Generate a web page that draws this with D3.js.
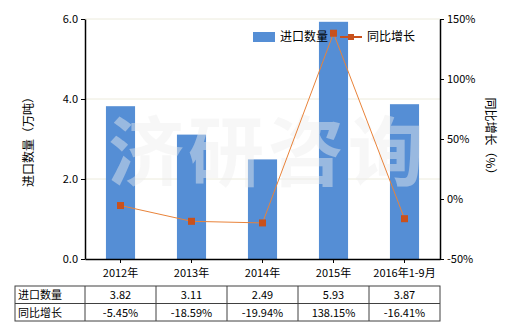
<!DOCTYPE html>
<html>
<head>
<meta charset="utf-8">
<script src="https://cdn.jsdelivr.net/npm/d3@7"></script>
<style>
  body { margin: 0; background: #fff; }
  text { font-family: "Noto Sans CJK SC", "Noto Sans", sans-serif; }
</style>
</head>
<body>
<script>
//chart data
var categories = ["2012年", "2013年", "2014年", "2015年", "2016年1-9月"];
var importQty = [3.82, 3.11, 2.49, 5.93, 3.87];   //万吨
var growthPct = [-5.45, -18.59, -19.94, 138.15, -16.41];
var qtyLabels = ["3.82", "3.11", "2.49", "5.93", "3.87"];
var growthLabels = ["-5.45%", "-18.59%", "-19.94%", "138.15%", "-16.41%"];
var leftTicks = [0, 2, 4, 6];
var rightTicks = [-50, 0, 50, 100, 150];

(function(){

//frame
var width = 520, height = 330,
    plotLeft = 85, plotRight = 440, plotTop = 19, plotBottom = 259;

var svg = d3.select("body").append("svg")
    .attr("width", width)
    .attr("height", height);

var x = d3.scaleBand()
    .domain(categories)
    .range([plotLeft, plotRight])
    .paddingInner(0.59)
    .paddingOuter(0.295);

var band = d3.scaleBand().domain(categories).range([plotLeft, plotRight]);

var yL = d3.scaleLinear().domain([0, 6]).range([plotBottom, plotTop]);
var yR = d3.scaleLinear().domain([-50, 150]).range([plotBottom, plotTop]);

//gridlines
svg.append("g").selectAll("line")
    .data(leftTicks.filter(function(d){ return d > 0; }))
    .enter().append("line")
    .attr("x1", plotLeft).attr("x2", plotRight)
    .attr("y1", function(d){ return yL(d); })
    .attr("y2", function(d){ return yL(d); })
    .attr("stroke", "#ecebdc")
    .attr("stroke-width", 1);

//bars
svg.append("g").selectAll("rect")
    .data(importQty)
    .enter().append("rect")
    .attr("x", function(d, i){ return x(categories[i]); })
    .attr("width", x.bandwidth())
    .attr("y", function(d){ return yL(d); })
    .attr("height", function(d){ return plotBottom - yL(d); })
    .attr("fill", "#558ed5");

//watermark
svg.append("text")
    .attr("x", 268).attr("y", 180)
    .attr("text-anchor", "middle")
    .attr("font-size", 76)
    .attr("font-weight", "bold")
    .attr("fill", "#eeeeee")
    .attr("fill-opacity", 0.45)
    .attr("letter-spacing", 4)
    .text("济研咨询");

//line + markers
var line = d3.line()
    .x(function(d, i){ return band(categories[i]) + band.bandwidth() / 2; })
    .y(function(d){ return yR(d); });

svg.append("path")
    .datum(growthPct)
    .attr("d", line)
    .attr("fill", "none")
    .attr("stroke", "#e9833a")
    .attr("stroke-width", 1);

svg.append("g").selectAll("rect")
    .data(growthPct)
    .enter().append("rect")
    .attr("x", function(d, i){ return band(categories[i]) + band.bandwidth() / 2 - 3.5; })
    .attr("y", function(d){ return yR(d) - 3.5; })
    .attr("width", 7).attr("height", 7)
    .attr("fill", "#c9511c");

//axes
var axisL = svg.append("g")
    .attr("transform", "translate(" + plotLeft + ",0)")
    .call(d3.axisLeft(yL).tickValues(leftTicks).tickFormat(d3.format(".1f")).tickSize(4).tickSizeOuter(0));

var axisR = svg.append("g")
    .attr("transform", "translate(" + plotRight + ",0)")
    .call(d3.axisRight(yR).tickValues(rightTicks).tickFormat(function(d){ return d + "%"; }).tickSize(4).tickSizeOuter(0));

var axisB = svg.append("g")
    .attr("transform", "translate(0," + plotBottom + ")")
    .call(d3.axisBottom(band).tickSize(4).tickSizeOuter(0).tickPadding(6));

[axisL, axisR, axisB].forEach(function(a){
    a.selectAll("path, line").attr("stroke", "#000");
    a.selectAll("text").attr("font-size", 11).attr("fill", "#000")
        .style("font-family", "'Noto Sans CJK SC', sans-serif");
    a.select(".domain").attr("stroke-width", 1.5);
});

//axis titles
svg.append("text")
    .attr("transform", "translate(33,139) rotate(-90)")
    .attr("text-anchor", "middle")
    .attr("font-size", 12)
    .text("进口数量（万吨）");

svg.append("text")
    .attr("transform", "translate(486,139) rotate(90)")
    .attr("text-anchor", "middle")
    .attr("font-size", 12)
    .text("同比增长（%）");

//legend
var legend = svg.append("g");
legend.append("rect")
    .attr("x", 253).attr("y", 32).attr("width", 22).attr("height", 10)
    .attr("fill", "#558ed5");
legend.append("text")
    .attr("x", 280).attr("y", 41).attr("font-size", 12)
    .text("进口数量");
legend.append("line")
    .attr("x1", 340).attr("x2", 362).attr("y1", 37).attr("y2", 37)
    .attr("stroke", "#c9511c").attr("stroke-width", 2);
legend.append("rect")
    .attr("x", 348).attr("y", 34).attr("width", 6).attr("height", 6)
    .attr("fill", "#c9511c");
legend.append("text")
    .attr("x", 367).attr("y", 41).attr("font-size", 12)
    .text("同比增长");

//data table
var rowTop = 286, rowH = 17.5, tableLeft = 15;
var rows = [["进口数量", qtyLabels], ["同比增长", growthLabels]];
var table = svg.append("g");

table.append("rect")
    .attr("x", tableLeft).attr("y", rowTop)
    .attr("width", plotRight - tableLeft).attr("height", rowH * 2)
    .attr("fill", "none").attr("stroke", "#404040");

table.append("line")
    .attr("x1", tableLeft).attr("x2", plotRight)
    .attr("y1", rowTop + rowH).attr("y2", rowTop + rowH)
    .attr("stroke", "#404040");

table.selectAll(".vline")
    .data(categories)
    .enter().append("line")
    .attr("class", "vline")
    .attr("x1", function(d){ return band(d); })
    .attr("x2", function(d){ return band(d); })
    .attr("y1", rowTop).attr("y2", rowTop + rowH * 2)
    .attr("stroke", "#404040");

rows.forEach(function(r, ri){
    var yText = rowTop + rowH * ri + 13;
    table.append("text")
        .attr("x", tableLeft + 3).attr("y", yText)
        .attr("font-size", 11)
        .text(r[0]);
    table.selectAll(".cell" + ri)
        .data(r[1])
        .enter().append("text")
        .attr("class", "cell" + ri)
        .attr("x", function(d, i){ return band(categories[i]) + band.bandwidth() / 2; })
        .attr("y", yText)
        .attr("text-anchor", "middle")
        .attr("font-size", 11)
        .text(function(d){ return d; });
});

})();
</script>
</body>
</html>
